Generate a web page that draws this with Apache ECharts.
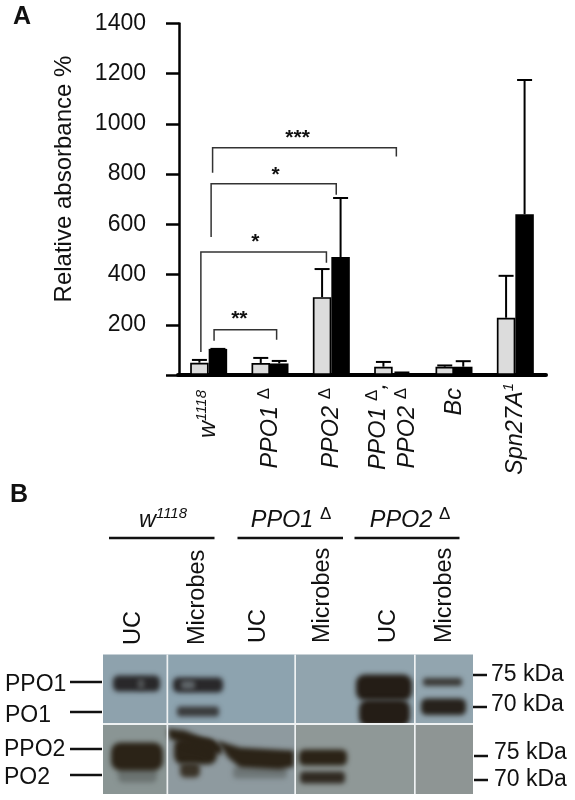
<!DOCTYPE html>
<html><head><meta charset="utf-8">
<style>html,body{margin:0;padding:0;background:#fff}#c{width:575px;height:800px}</style>
<script src="https://cdn.jsdelivr.net/npm/echarts@6/dist/echarts.min.js"></script>
</head><body><div id="c"></div>
<script>
const categories = ['{i|w}{s|1118}{g2| }', '{i|PPO1 }{d|Δ}{g| }', '{i|PPO2 }{d|Δ}{g| }', '{i|PPO1 }{d|Δ}{i|,}\n{i|PPO2 }{d|Δ}{g| }', '{i|Bc}{g| }', '{i|Spn27A}{s|1}'];
const yTicks = [0, 200, 400, 600, 800, 1000, 1200, 1400];
const greyValues = [49, 48, 310, 33, 33, 228];
const blackValues = [104, 46, 470, 8, 33, 640];
const greyUpper = [60, 68, 422, 52, 38, 395];
const blackUpper = [104, 56, 705, 10, 55, 1175];
// x1, x2 (in category widths), top, left end, right end
const brackets = [[0.564, 3.56, 905, 806, 870], [0.54, 2.58, 762, 550, 718], [0.373, 2.42, 490, 92, 447], [0.588, 1.608, 180, 136, 140]];
const stars = [[1.95, 945, '***'], [1.59, 796, '*'], [1.26, 528, '*'], [1.0, 221, '**']];
// blot: x0, y0, x1, y1, colour
const topPanels = [[0, 0, 64, 68.8, '#8ea2ad'], [64, 0, 192, 68.8, '#8da3af'], [192, 0, 312, 68.8, '#91a4ae'], [312, 0, 370, 68.8, '#92a5af']];
const bottomPanels = [[0, 70, 64, 139.5, '#8a9594'], [64, 70, 192, 139.5, '#8e9a9f'], [192, 70, 312, 139.5, '#8f9897'], [312, 70, 370, 139.5, '#8e9594']];
const topBands = [
  [10, 21, 57, 37, '#29282a'], [35, 24, 41, 35, '#55585a'],
  [70, 23, 120, 38, '#29282a'], [78, 26, 92, 35, '#60666a'], [74, 52, 116, 62, '#3a3b3c'],
  [253, 20, 309, 46, '#241d16'], [256, 45, 307, 72, '#241d16'],
  [320, 23.5, 359, 31.5, '#3a3936'], [318, 44, 363, 60.5, '#27221c']
];
const bottomBands = [
  [15, 112, 54, 128, '#6b7371'], [8, 88, 60, 116, '#2b2317'],
  [71, 84, 114, 110, '#2b2317'], [77, 108, 97, 123, '#3a3328'],
  [130, 112, 184, 124, '#6f7778'],
  [196, 95, 244, 111, '#2b2317'], [197, 117, 242, 129, '#302a22']
];
const bottomBlobs = [
  [[65, 74], [82, 76], [119, 91], [119, 100], [85, 92], [66, 84]],
  [[114, 86], [137, 93], [191, 96], [191, 112], [177, 115], [137, 113], [125, 103]]
];
const blotDividers = [[63.5, 0, 65.2, 139.5], [191.3, 0, 193, 139.5], [311, 0, 312.7, 139.5], [0, 68.6, 370, 70.4]];

const F = '"Liberation Sans", Arial, sans-serif';
const C = '#111';
const BW = 18.5;
const FAR = 2000;
const chart = echarts.init(document.getElementById('c'), null, {renderer: 'canvas'});

function errBar(offset, upper, values) {
  return {
    type: 'custom', xAxisIndex: 0, yAxisIndex: 0, z: 5, silent: true,
    data: upper.map((u, i) => [i, values[i], u]),
    renderItem(p, api) {
      const a = api.coord([api.value(0), api.value(1)]);
      const b = api.coord([api.value(0), api.value(2)]);
      const x = a[0] + offset;
      return {type: 'group', children: [
        {type: 'line', shape: {x1: x, y1: a[1], x2: x, y2: b[1]}, style: {stroke: '#000', lineWidth: 2}},
        {type: 'line', shape: {x1: x - 7.5, y1: b[1], x2: x + 7.5, y2: b[1]}, style: {stroke: '#000', lineWidth: 2}}
      ]};
    }
  };
}
function txt(text, x, y, size, opt) {
  return Object.assign({type: 'text', x, y, z: 20, silent: true, style: Object.assign({text, fontFamily: F, fontSize: size, fill: C, verticalAlign: 'middle', align: 'left'}, opt && opt.style)}, opt && opt.el);
}
function hline(x1, y1, x2, y2, w) {
  return {type: 'line', z: 20, silent: true, shape: {x1, y1, x2, y2}, style: {stroke: '#111', lineWidth: w}};
}
const hdrRich = {
  i: {fontStyle: 'italic', fontSize: 23.5, fontFamily: F, fill: C, lineHeight: 28},
  s: {fontStyle: 'italic', fontSize: 15, fontFamily: F, fill: C, verticalAlign: 'top', lineHeight: 28},
  d: {fontSize: 17, fontFamily: F, fill: C, verticalAlign: 'top', lineHeight: 28}
};
function rot(text, x, y) {
  return {type: 'text', x, y, rotation: Math.PI / 2, z: 20, silent: true, style: {text, fontFamily: F, fontSize: 23.5, fill: C, align: 'left', verticalAlign: 'middle'}};
}
function hdr(text, x, y) {
  return {type: 'text', x, y, z: 20, silent: true, style: {text, rich: hdrRich, fontFamily: F, align: 'center', verticalAlign: 'middle'}};
}
const graphics = [
  txt('A', 13, 17, 25, {style: {fontWeight: 'bold'}}),
  txt('B', 10, 495, 25, {style: {fontWeight: 'bold'}}),
  {type: 'text', x: 64, y: 179, rotation: Math.PI / 2, z: 20, silent: true, style: {text: 'Relative absorbance %', fontFamily: F, fontSize: 24, fill: C, align: 'center', verticalAlign: 'middle'}},
  hdr('{i|w}{s|1118}', 163, 520), hdr('{i|PPO1 }{d|Δ}', 291, 520), hdr('{i|PPO2 }{d|Δ}', 410, 520),
  hline(109, 538, 214.5, 538, 2.5), hline(237.5, 538, 343, 538, 2.5), hline(354.5, 538, 459.5, 538, 2.5),
  rot('UC', 134, 645), rot('Microbes', 198, 645),
  rot('UC', 258.5, 643), rot('Microbes', 323, 643), rot('UC', 389, 643), rot('Microbes', 444.5, 643),
  txt('PPO1', 5, 685, 23), txt('PO1', 5, 716, 23), txt('PPO2', 4, 750, 23), txt('PO2', 4, 778, 23),
  hline(70, 682, 102, 682, 2.5), hline(70, 712, 102, 712, 2.5), hline(70, 749, 102, 749, 2.5), hline(70, 775, 102, 775, 2.5),
  hline(473, 675, 487, 675, 2.5), hline(473, 707, 487, 707, 2.5), hline(474, 756, 488, 756, 2.5), hline(474, 780, 488, 780, 2.5),
  txt('75 kDa', 491, 675, 23), txt('70 kDa', 491, 705, 23), txt('75 kDa', 494, 753, 23), txt('70 kDa', 494, 780, 23)
];

function rectSeries(data, z, color, blur) {
  return {
    type: 'custom', xAxisIndex: 2, yAxisIndex: 1, z, silent: true, clip: false, data,
    renderItem(p, api) {
      const a = api.coord([api.value(0), api.value(1)]);
      const b = api.coord([api.value(2), api.value(3)]);
      const fill = color || data[p.dataIndex][4];
      if (blur) {
        return {type: 'rect',
          shape: {x: a[0] - FAR, y: a[1], width: b[0] - a[0], height: b[1] - a[1], r: (b[1] - a[1]) / 3},
          style: {fill: '#000', shadowBlur: blur, shadowColor: fill, shadowOffsetX: FAR}};
      }
      return {type: 'rect', shape: {x: a[0], y: a[1], width: b[0] - a[0], height: b[1] - a[1]}, style: {fill}};
    }
  };
}
function blobSeries(blobs, z, color, blur) {
  return {
    type: 'custom', xAxisIndex: 2, yAxisIndex: 1, z, silent: true, clip: false,
    data: blobs.map((b, i) => [b[0][0], b[0][1], i]),
    renderItem(p, api) {
      const pts = blobs[p.dataIndex].map(q => { const c = api.coord(q); return [c[0] - FAR, c[1]]; });
      return {type: 'polygon', shape: {points: pts}, style: {fill: '#000', shadowBlur: blur, shadowColor: color, shadowOffsetX: FAR}};
    }
  };
}

chart.setOption({
  animation: false,
  backgroundColor: '#fff',
  grid: [
    {left: 178, width: 368, top: 23.5, height: 351.5},
    {left: 103, width: 370, top: 654.5, height: 139.5}
  ],
  xAxis: [
    {type: 'category', gridIndex: 0, data: categories,
     axisLine: {lineStyle: {color: '#000', width: 4}}, axisTick: {show: false},
     axisLabel: {rotate: 90, margin: 8, interval: 0, fontFamily: F, color: C, lineHeight: 29,
       rich: {
         i: {fontStyle: 'italic', fontSize: 23.5, fontFamily: F, color: C, lineHeight: 29},
         s: {fontStyle: 'italic', fontSize: 15, fontFamily: F, color: C, verticalAlign: 'top', lineHeight: 29},
         d: {fontSize: 17, fontFamily: F, color: C, verticalAlign: 'top', lineHeight: 29},
         g: {fontSize: 18, fontFamily: F, color: C, lineHeight: 29},
         g2: {fontSize: 25, fontFamily: F, color: C, lineHeight: 29}
       }}},
    {type: 'value', gridIndex: 0, min: 0, max: 6, show: false},
    {type: 'value', gridIndex: 1, min: 0, max: 370, show: false}
  ],
  yAxis: [
    {type: 'value', gridIndex: 0, min: 0, max: 1400, interval: 200, offset: -1,
     axisLine: {show: true, lineStyle: {color: '#000', width: 2.5}},
     axisTick: {show: true, length: 13, lineStyle: {color: '#000', width: 2.5}},
     splitLine: {show: false},
     axisLabel: {fontFamily: F, fontSize: 23, color: C, margin: 33,
       formatter: v => yTicks.includes(v) && v !== 0 ? String(v) : ''}},
    {type: 'value', gridIndex: 1, min: 0, max: 139.5, inverse: true, show: false}
  ],
  series: [
    {type: 'bar', xAxisIndex: 0, yAxisIndex: 0, data: greyValues, barWidth: BW, barGap: 0, z: 3, silent: true,
     itemStyle: {color: '#dcdcdc', borderColor: '#000', borderWidth: 1.7}},
    {type: 'bar', xAxisIndex: 0, yAxisIndex: 0, data: blackValues, barWidth: BW, barGap: 0, z: 3, silent: true,
     itemStyle: {color: '#000'}},
    errBar(-BW / 2, greyUpper, greyValues),
    errBar(BW / 2, blackUpper, blackValues),
    {type: 'custom', xAxisIndex: 1, yAxisIndex: 0, z: 6, silent: true, clip: false, data: brackets,
     renderItem(p, api) {
       const L0 = api.coord([api.value(0), api.value(3)]);
       const T0 = api.coord([api.value(0), api.value(2)]);
       const T1 = api.coord([api.value(1), api.value(2)]);
       const R1 = api.coord([api.value(1), api.value(4)]);
       return {type: 'polyline', shape: {points: [L0, T0, T1, R1]}, style: {stroke: '#333', lineWidth: 1.5, fill: 'none'}};
     }},
    {type: 'custom', xAxisIndex: 1, yAxisIndex: 0, z: 6, silent: true, clip: false, data: stars,
     renderItem(p, api) {
       const c = api.coord([api.value(0), api.value(1)]);
       return {type: 'text', x: c[0], y: c[1], style: {text: stars[p.dataIndex][2], fontFamily: F, fontWeight: 'bold', fontSize: 21, fill: C, align: 'center', verticalAlign: 'middle'}};
     }},
    rectSeries(topPanels, 1),
    rectSeries(topBands, 2, null, 5),
    rectSeries(bottomPanels, 3),
    rectSeries(bottomBands, 4, null, 5),
    blobSeries(bottomBlobs, 4, '#2b2317', 5),
    rectSeries(blotDividers, 5, '#eef1f2')
  ],
  graphic: graphics
});
</script></body></html>
